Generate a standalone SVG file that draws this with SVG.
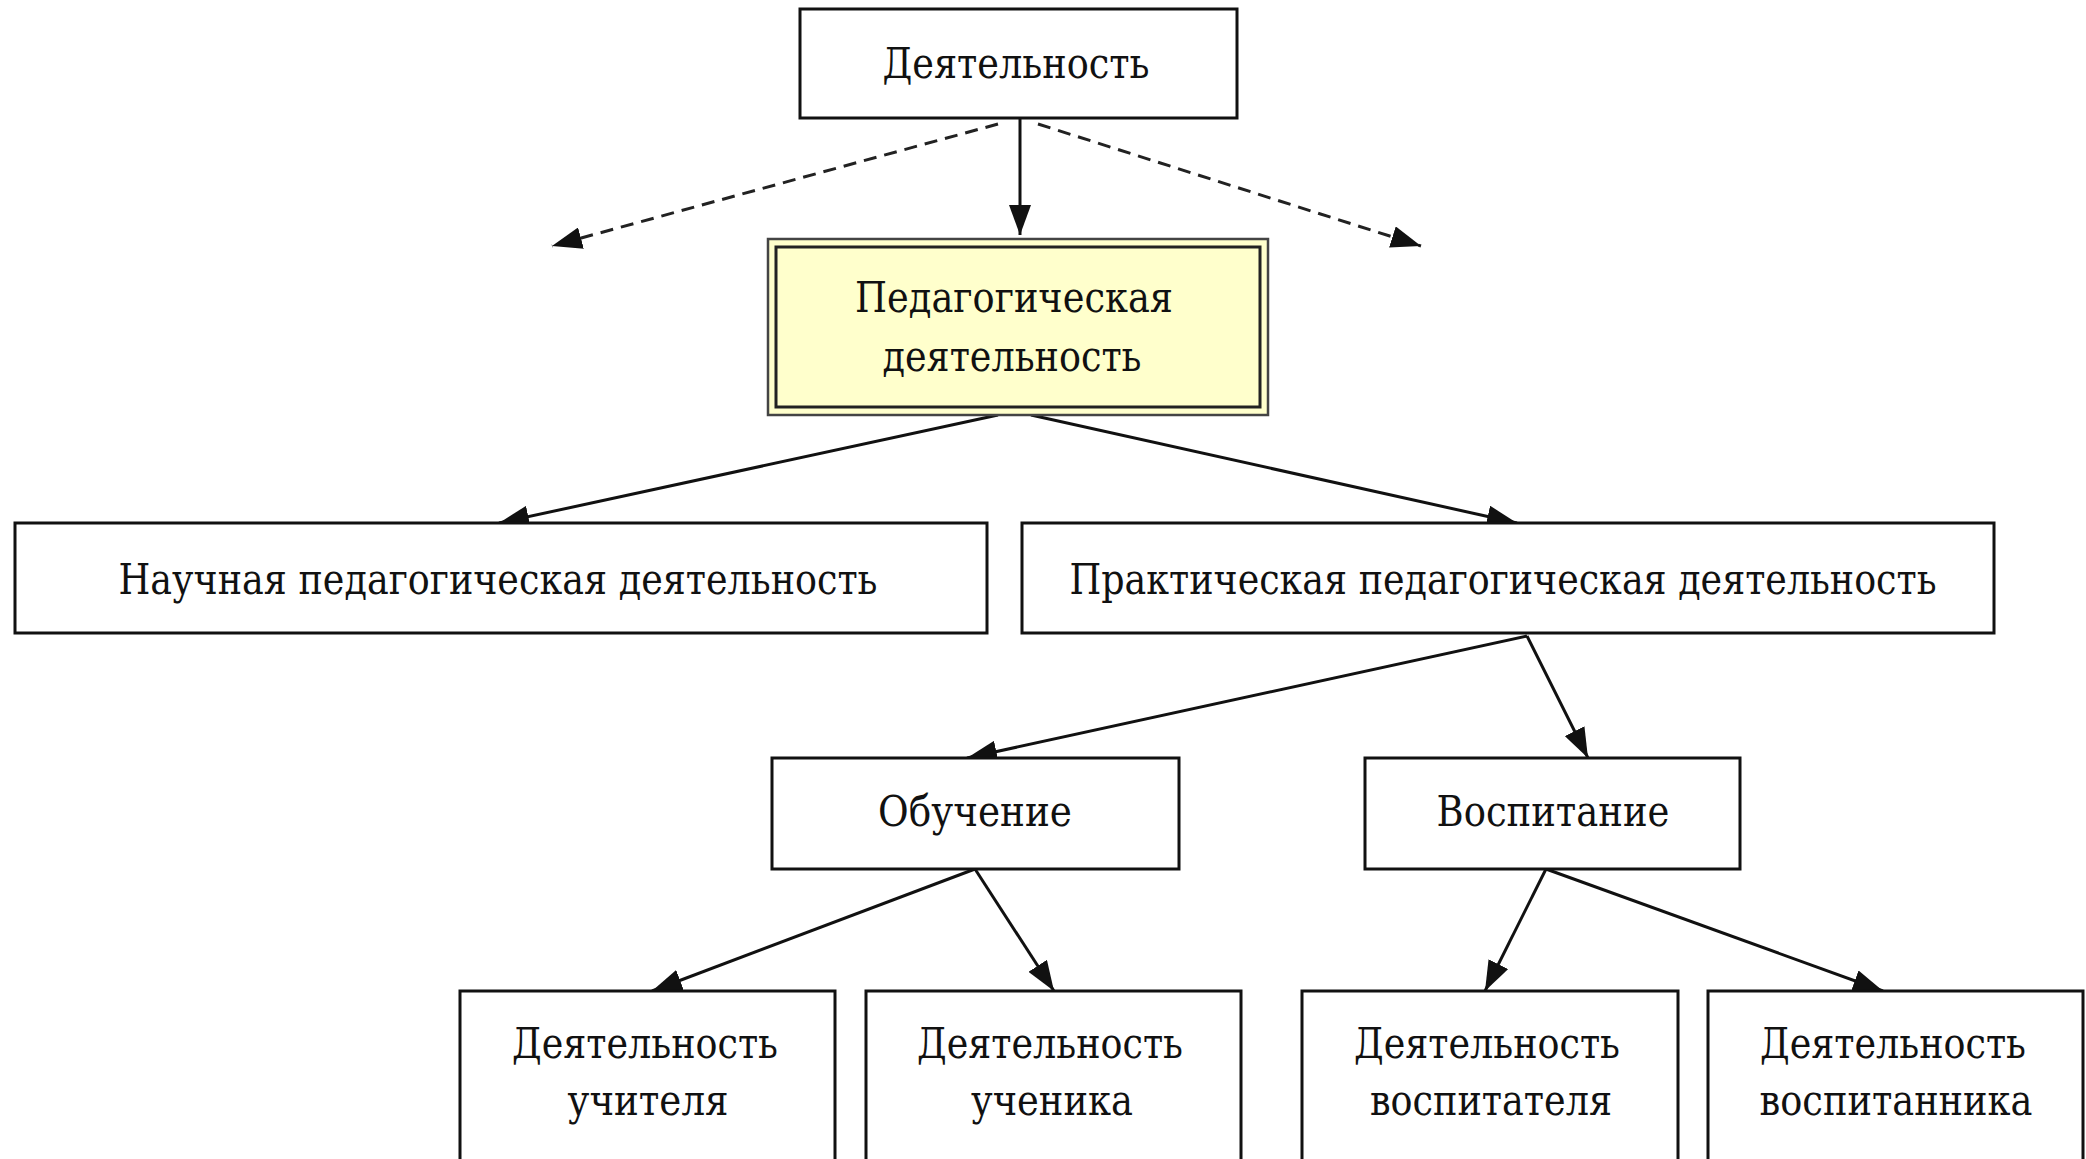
<svg xmlns="http://www.w3.org/2000/svg" width="2086" height="1159" viewBox="0 0 2086 1159">
<style>
.box{fill:#fff;stroke:#111;stroke-width:3}
.t{font-family:"DejaVu Serif","Liberation Serif",serif;font-size:43px;fill:#111;text-anchor:middle}
.c{stroke:#111;stroke-width:3;fill:none}
.d{stroke:#222;stroke-width:3;fill:none;stroke-dasharray:13 8}
</style>
<defs>
<marker id="ahb" viewBox="0 0 10 10" refX="10" refY="5" markerWidth="30" markerHeight="22" markerUnits="userSpaceOnUse" orient="auto" preserveAspectRatio="none">
<path d="M0,0 L10,5 L0,10 z" fill="#111"/>
</marker>
</defs>
<rect width="2086" height="1159" fill="#fff"/>
<g id="connectors">
<line class="c" x1="1020" y1="119" x2="1020" y2="235" marker-end="url(#ahb)"/>
<line class="d" x1="998" y1="124" x2="552" y2="246" marker-end="url(#ahb)"/>
<line class="d" x1="1038" y1="124" x2="1421" y2="246" marker-end="url(#ahb)"/>
<line class="c" x1="998" y1="415" x2="499" y2="523" marker-end="url(#ahb)"/>
<line class="c" x1="1031" y1="415" x2="1517" y2="523" marker-end="url(#ahb)"/>
<line class="c" x1="1527" y1="636" x2="967" y2="758" marker-end="url(#ahb)"/>
<line class="c" x1="1527" y1="636" x2="1588" y2="758" marker-end="url(#ahb)"/>
<line class="c" x1="975" y1="869" x2="652" y2="991" marker-end="url(#ahb)"/>
<line class="c" x1="975" y1="869" x2="1054" y2="991" marker-end="url(#ahb)"/>
<line class="c" x1="1546" y1="869" x2="1485" y2="991" marker-end="url(#ahb)"/>
<line class="c" x1="1546" y1="869" x2="1883" y2="991" marker-end="url(#ahb)"/>
</g>
<g id="n-activity">
<rect class="box" x="800" y="9" width="437" height="109"/>
<text class="t" x="1016" y="78" textLength="267" lengthAdjust="spacingAndGlyphs">Деятельность</text>
</g>
<g id="n-ped">
<rect x="768" y="239" width="500" height="176" fill="#FFFFCC" stroke="#444" stroke-width="2.5"/>
<rect x="776" y="247" width="484" height="160" fill="#FFFFCC" stroke="#222" stroke-width="3"/>
<text class="t" x="1014" y="312" textLength="318" lengthAdjust="spacingAndGlyphs">Педагогическая</text>
<text class="t" x="1012" y="371" textLength="259" lengthAdjust="spacingAndGlyphs">деятельность</text>
</g>
<g id="n-science">
<rect class="box" x="15" y="523" width="972" height="110"/>
<text class="t" x="498" y="594" textLength="759" lengthAdjust="spacingAndGlyphs">Научная педагогическая деятельность</text>
</g>
<g id="n-practice">
<rect class="box" x="1022" y="523" width="972" height="110"/>
<text class="t" x="1503" y="594" textLength="867" lengthAdjust="spacingAndGlyphs">Практическая педагогическая деятельность</text>
</g>
<g id="n-teaching">
<rect class="box" x="772" y="758" width="407" height="111"/>
<text class="t" x="975" y="826" textLength="194" lengthAdjust="spacingAndGlyphs">Обучение</text>
</g>
<g id="n-upbringing">
<rect class="box" x="1365" y="758" width="375" height="111"/>
<text class="t" x="1553" y="826" textLength="233" lengthAdjust="spacingAndGlyphs">Воспитание</text>
</g>
<g id="n-teacher">
<rect class="box" x="460" y="991" width="375" height="170"/>
<text class="t" x="645" y="1058" textLength="266" lengthAdjust="spacingAndGlyphs">Деятельность</text>
<text class="t" x="648" y="1115" textLength="161" lengthAdjust="spacingAndGlyphs">учителя</text>
</g>
<g id="n-pupil">
<rect class="box" x="866" y="991" width="375" height="170"/>
<text class="t" x="1050" y="1058" textLength="266" lengthAdjust="spacingAndGlyphs">Деятельность</text>
<text class="t" x="1052" y="1115" textLength="162" lengthAdjust="spacingAndGlyphs">ученика</text>
</g>
<g id="n-educator">
<rect class="box" x="1302" y="991" width="376" height="170"/>
<text class="t" x="1487" y="1058" textLength="266" lengthAdjust="spacingAndGlyphs">Деятельность</text>
<text class="t" x="1491" y="1115" textLength="242" lengthAdjust="spacingAndGlyphs">воспитателя</text>
</g>
<g id="n-ward">
<rect class="box" x="1708" y="991" width="375" height="170"/>
<text class="t" x="1893" y="1058" textLength="266" lengthAdjust="spacingAndGlyphs">Деятельность</text>
<text class="t" x="1896" y="1115" textLength="273" lengthAdjust="spacingAndGlyphs">воспитанника</text>
</g>
</svg>
